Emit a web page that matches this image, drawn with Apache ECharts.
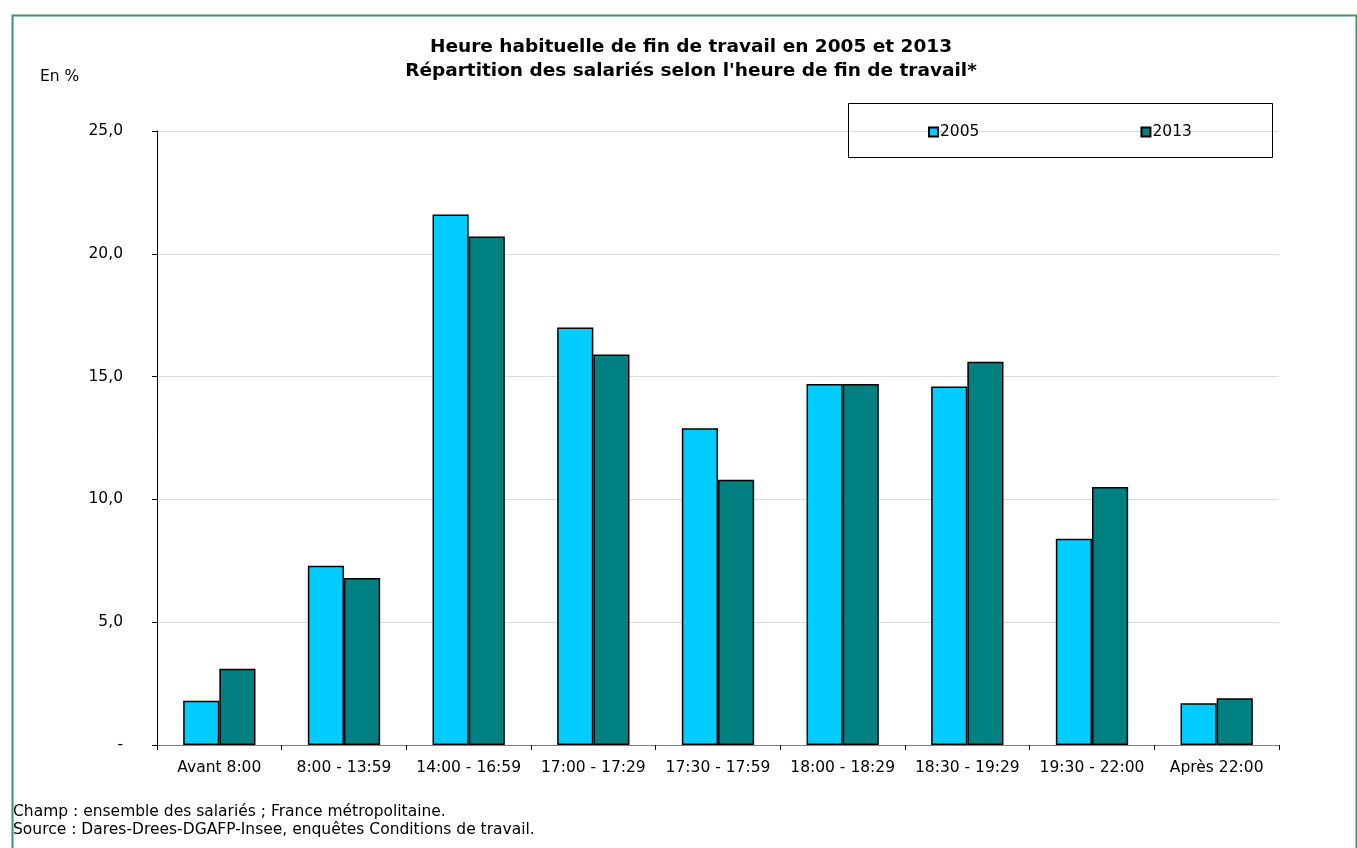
<!DOCTYPE html>
<html>
<head>
<meta charset="utf-8">
<script src="https://cdn.jsdelivr.net/npm/echarts@6/dist/echarts.min.js"></script>
<style>
html,body{margin:0;padding:0;background:#fff;}
#chart{width:1357px;height:848px;}
</style>
</head>
<body>
<div id="chart"></div>
<script>
const categories = ['Avant 8:00','8:00 - 13:59','14:00 - 16:59','17:00 - 17:29','17:30 - 17:59','18:00 - 18:29','18:30 - 19:29','19:30 - 22:00','Après 22:00'];
const values2005 = [1.8, 7.3, 21.6, 17.0, 12.9, 14.7, 14.6, 8.4, 1.7];
const values2013 = [3.1, 6.8, 20.7, 15.9, 10.8, 14.7, 15.6, 10.5, 1.9];
const seriesNames = ['2005', '2013'];
const titleLines = ['Heure habituelle de fin de travail en 2005 et 2013', "Répartition des salariés selon l'heure de fin de travail*"];
const yUnit = 'En %';
const footerLines = ['Champ : ensemble des salariés ; France métropolitaine.', 'Source : Dares-Drees-DGAFP-Insee, enquêtes Conditions de travail.'];

const FONT = 'DejaVu Sans';
const chart = echarts.init(document.getElementById('chart'));
chart.setOption({
  animation: false,
  textStyle: { fontFamily: FONT, color: '#000' },
  title: {
    text: titleLines.join('\n'),
    left: 686, top: 30, textAlign: 'center',
    textStyle: { fontFamily: FONT, fontWeight: 'bold', fontSize: 18.5, lineHeight: 24, color: '#000' }
  },
  legend: {
    data: seriesNames,
    left: 923, top: 119,
    itemWidth: 9, itemHeight: 9, itemGap: 161,
    icon: 'rect',
    textStyle: { fontFamily: FONT, fontSize: 15.5, color: '#000', padding: [0,0,0,-3] }
  },
  graphic: [
    { type: 'rect', left: 10, top: 13, shape: { width: 1344, height: 850 }, style: { fill: 'none', stroke: '#339966', lineWidth: 2 }, silent: true },
    { type: 'rect', left: 846, top: 101, shape: { width: 424, height: 54 }, style: { fill: 'none', stroke: '#000', lineWidth: 1 }, silent: true, z: 10 },
    { type: 'text', left: 40, top: 69, style: { text: yUnit, font: '15.5px "DejaVu Sans"', fill: '#000' } },
    { type: 'text', left: 13, top: 804, style: { text: footerLines[0], font: '15.5px "DejaVu Sans"', fill: '#000' } },
    { type: 'text', left: 13, top: 822, style: { text: footerLines[1], font: '15.5px "DejaVu Sans"', fill: '#000' } }
  ],
  grid: { left: 157, right: 78, top: 131, bottom: 103, containLabel: false },
  xAxis: {
    type: 'category', data: categories,
    axisLine: { lineStyle: { color: '#808080', width: 1 } },
    axisTick: { show: true, interval: 0, length: 5, lineStyle: { color: '#000' } },
    axisLabel: { interval: 0, hideOverlap: false, fontFamily: FONT, fontSize: 15.5, color: '#000', margin: 15 }
  },
  yAxis: {
    type: 'value', min: 0, max: 25, interval: 5,
    axisLine: { show: true, lineStyle: { color: '#000', width: 1 } },
    axisTick: { show: true, length: 5, lineStyle: { color: '#000' } },
    axisLabel: { fontFamily: FONT, fontSize: 15.5, color: '#000', margin: 34,
      formatter: v => v === 0 ? '-' : v.toFixed(1).replace('.', ',') },
    splitLine: { show: true, lineStyle: { color: '#dcdcdc', width: 1 } }
  },
  series: [
    { name: seriesNames[0], type: 'bar', data: values2005, barGap: '0%', barCategoryGap: '42%',
      itemStyle: { color: '#00CCFF', borderColor: '#000', borderWidth: 1.5 } },
    { name: seriesNames[1], type: 'bar', data: values2013, barGap: '0%', barCategoryGap: '42%',
      itemStyle: { color: '#008080', borderColor: '#000', borderWidth: 1.5 } }
  ]
});
</script>
</body>
</html>
